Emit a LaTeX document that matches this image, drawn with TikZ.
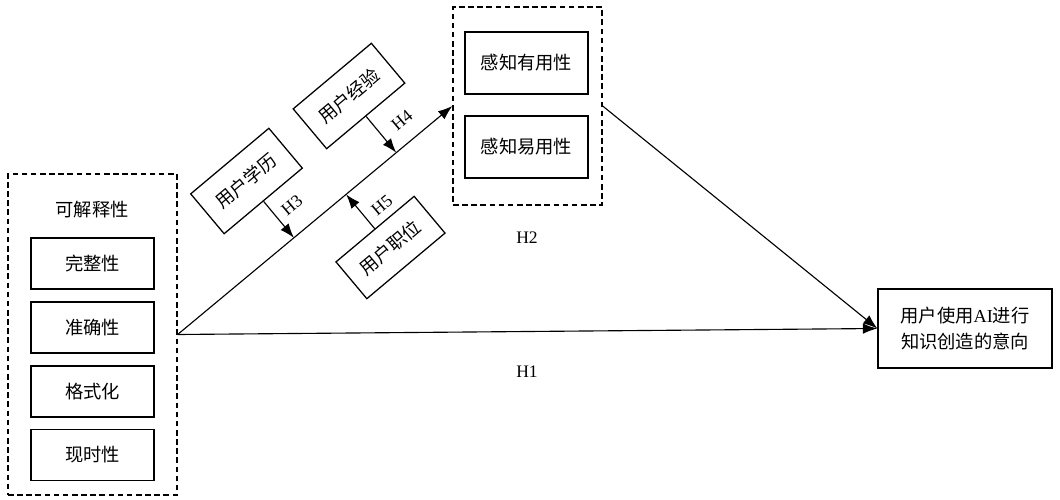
\documentclass[tikz,border=0pt]{standalone}
\usepackage{fontspec}
\setmainfont{Noto Sans CJK SC}
\newfontfamily\lat{Liberation Serif}
\usetikzlibrary{arrows.meta,calc}
\begin{document}
\begin{tikzpicture}[x=0.025cm,y=-0.025cm,
  txt/.style={font=\fontsize{13}{18}\selectfont},
  box/.style={draw, line width=0.9pt, inner sep=0pt, txt},
  dbox/.style={draw, line width=0.9pt, inner sep=0pt, dash pattern=on 4pt off 2.5pt},
  conn/.style={line width=0.8pt},
  arr/.style={conn, -{Latex[length=0.36cm,width=0.26cm]}},
  hl/.style={font=\lat\fontsize{12.5}{14}\selectfont, inner sep=0pt},
]
\useasboundingbox (0,0) rectangle (1060,500);

% left group
\node[dbox, minimum width=4.225cm, minimum height=8.025cm] (L) at (92.5,334.5) {};
\node[txt] (Lt) at (92,210) {可解释性};
\node[box, minimum width=3.075cm, minimum height=1.275cm] (a1) at (92.5,263.5) {完整性};
\node[box, minimum width=3.075cm, minimum height=1.275cm] (a2) at (92.5,327.5) {准确性};
\node[box, minimum width=3.075cm, minimum height=1.275cm] (a3) at (92.5,391.5) {格式化};
\node[box, minimum width=3.075cm, minimum height=1.275cm] (a4) at (92.5,455) {现时性};

% upper group
\node[dbox, minimum width=3.725cm, minimum height=4.95cm] (U) at (527.5,106) {};
\node[box, minimum width=3.075cm, minimum height=1.55cm] (u1) at (526.5,63) {感知有用性};
\node[box, minimum width=3.075cm, minimum height=1.55cm] (u2) at (526.5,147) {感知易用性};

% final
\node[box, minimum width=4.35cm, minimum height=1.975cm, align=center] (F) at (965,328.5) {用户使用{\lat AI}进行\\知识创造的意向};

% moderators
\node[box, rotate=40, minimum width=2.55cm, minimum height=1.3cm] (edu) at (246.5,181) {用户学历};
\node[box, rotate=40, minimum width=2.55cm, minimum height=1.3cm] (exp) at (349,96) {用户经验};
\node[box, rotate=40, minimum width=2.55cm, minimum height=1.2cm] (pos) at (390.5,247.5) {用户职位};

% connectors
\draw[arr] (L.east) -- (U.west);
\draw[arr] (L.east) -- (F.west);
\draw[arr] (U.east) -- (F.west);
\draw[arr] (edu.south) -- ($(L.east)!(edu.south)!(U.west)$);
\draw[arr] (exp.south) -- ($(L.east)!(exp.south)!(U.west)$);
\draw[arr] (pos.north) -- ($(L.east)!(pos.north)!(U.west)$);

% labels
\node[hl, rotate=40] (h3) at (292,205) {H3};
\node[hl, rotate=40] (h4) at (402,120) {H4};
\node[hl, rotate=40] (h5) at (382,205) {H5};
\node[hl] (h2) at (527,238) {H2};
\node[hl] (h1) at (527,372) {H1};
\end{tikzpicture}
\end{document}
